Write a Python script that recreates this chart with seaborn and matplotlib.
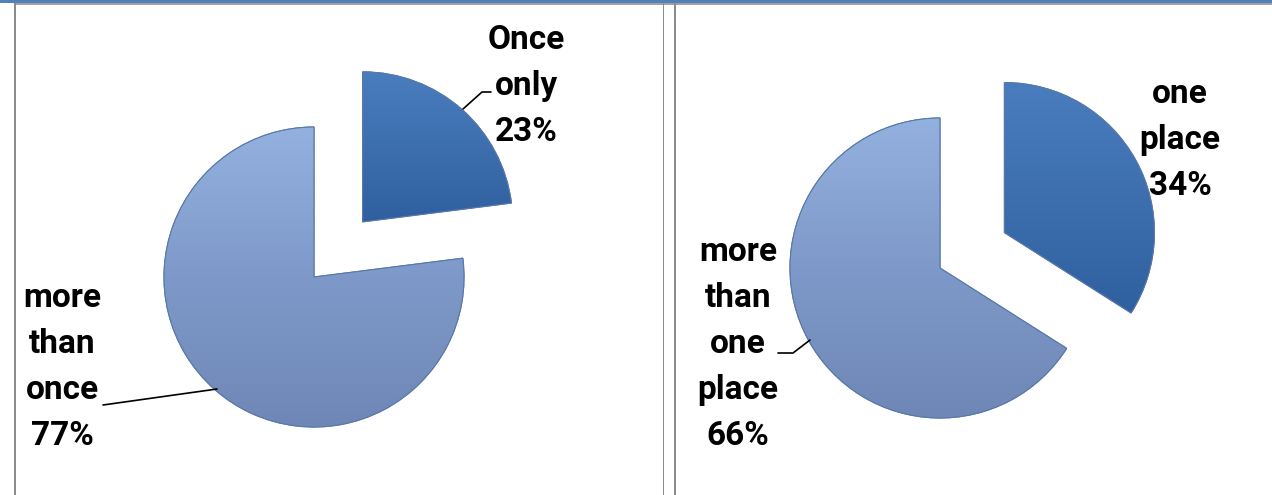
import numpy as np
import matplotlib
matplotlib.use("Agg")
import matplotlib.pyplot as plt
import seaborn as sns
from matplotlib.colors import LinearSegmentedColormap
from matplotlib.patches import Rectangle, PathPatch

# ---- data ----
left_labels = ["Once\nonly", "more\nthan\nonce"]
left_values = [23, 77]
right_labels = ["one\nplace", "more\nthan\none\nplace"]
right_values = [34, 66]

sns.set_theme(style="white")
plt.rcParams['font.family'] = ['Roboto', 'DejaVu Sans']

W, H = 1272, 495
fig = plt.figure(figsize=(W / 100, H / 100), dpi=100)
ax = fig.add_axes([0, 0, 1, 1])
ax.set_axis_off()

def py(y):
    return H - y

dark_cmap = LinearSegmentedColormap.from_list("d", ["#2F5F9E", "#3D6FAF", "#4A7DBE"])
light_cmap = LinearSegmentedColormap.from_list("l", ["#6F87B6", "#7E99C9", "#93B1DE"])

R = 150
EXPL = 0.49 * R

def draw_pie(values, labels, cx, cy, label_pos, leaders):
    wedges, _ = ax.pie(values, radius=R, center=(cx, py(cy)), startangle=90,
                       counterclock=False, explode=[EXPL, 0],
                       colors=["#3D6FAF", "#809CCC"],
                       wedgeprops=dict(edgecolor="#5876A6", linewidth=0.8),
                       frame=True)
    for w, cm in zip(wedges, [dark_cmap, light_cmap]):
        ext = w.get_path().get_extents()
        grad = np.linspace(0, 1, 256).reshape(-1, 1)
        im = ax.imshow(grad, extent=[ext.x0, ext.x1, ext.y0, ext.y1], origin="lower",
                       cmap=cm, aspect="auto", zorder=w.get_zorder() + 0.1,
                       interpolation="bilinear")
        im.set_clip_path(w)
        edge = PathPatch(w.get_path(), facecolor="none", edgecolor="#5A78A8",
                         linewidth=0.8, zorder=w.get_zorder() + 0.2)
        ax.add_patch(edge)
    for (lab, val), (lx, ly) in zip(zip(labels, values), label_pos):
        lines = lab.split("\n") + [f"{val}%"]
        for i, t in enumerate(lines):
            ax.text(lx, py(ly + 46 * i), t, ha="center", va="center",
                    fontsize=24, fontweight="bold", color="black", zorder=10)
    for pts in leaders:
        xs = [p[0] for p in pts]
        ys = [py(p[1]) for p in pts]
        ax.plot(xs, ys, color="black", linewidth=1.2, zorder=9)

draw_pie(left_values, left_labels, 314, 277,
         [(526, 40), (62, 298)],
         [[(463, 109), (482, 92), (491, 92)], [(103, 405), (217, 389)]])
draw_pie(right_values, right_labels, 940, 268,
         [(1180, 94), (738, 252)],
         [[(778, 353), (793, 353), (810, 340)]])

# ---- borders ----
ax.add_patch(Rectangle((0, py(3.3)), W, 3.3, color="#4F81BD", zorder=20, lw=0))
ax.add_patch(Rectangle((14, py(4.7)), W - 14, 1.4, color="#A0A0A0", zorder=20, lw=0))
for x0 in (14, 662.7, 674):
    ax.add_patch(Rectangle((x0, 0), 1.7, py(3.3), color="#8C8C8C", zorder=20, lw=0))

ax.set_xlim(0, W)
ax.set_ylim(0, H)
ax.set_aspect("auto")
ax.set_axis_off()

fig.savefig("out.png", dpi=100)
